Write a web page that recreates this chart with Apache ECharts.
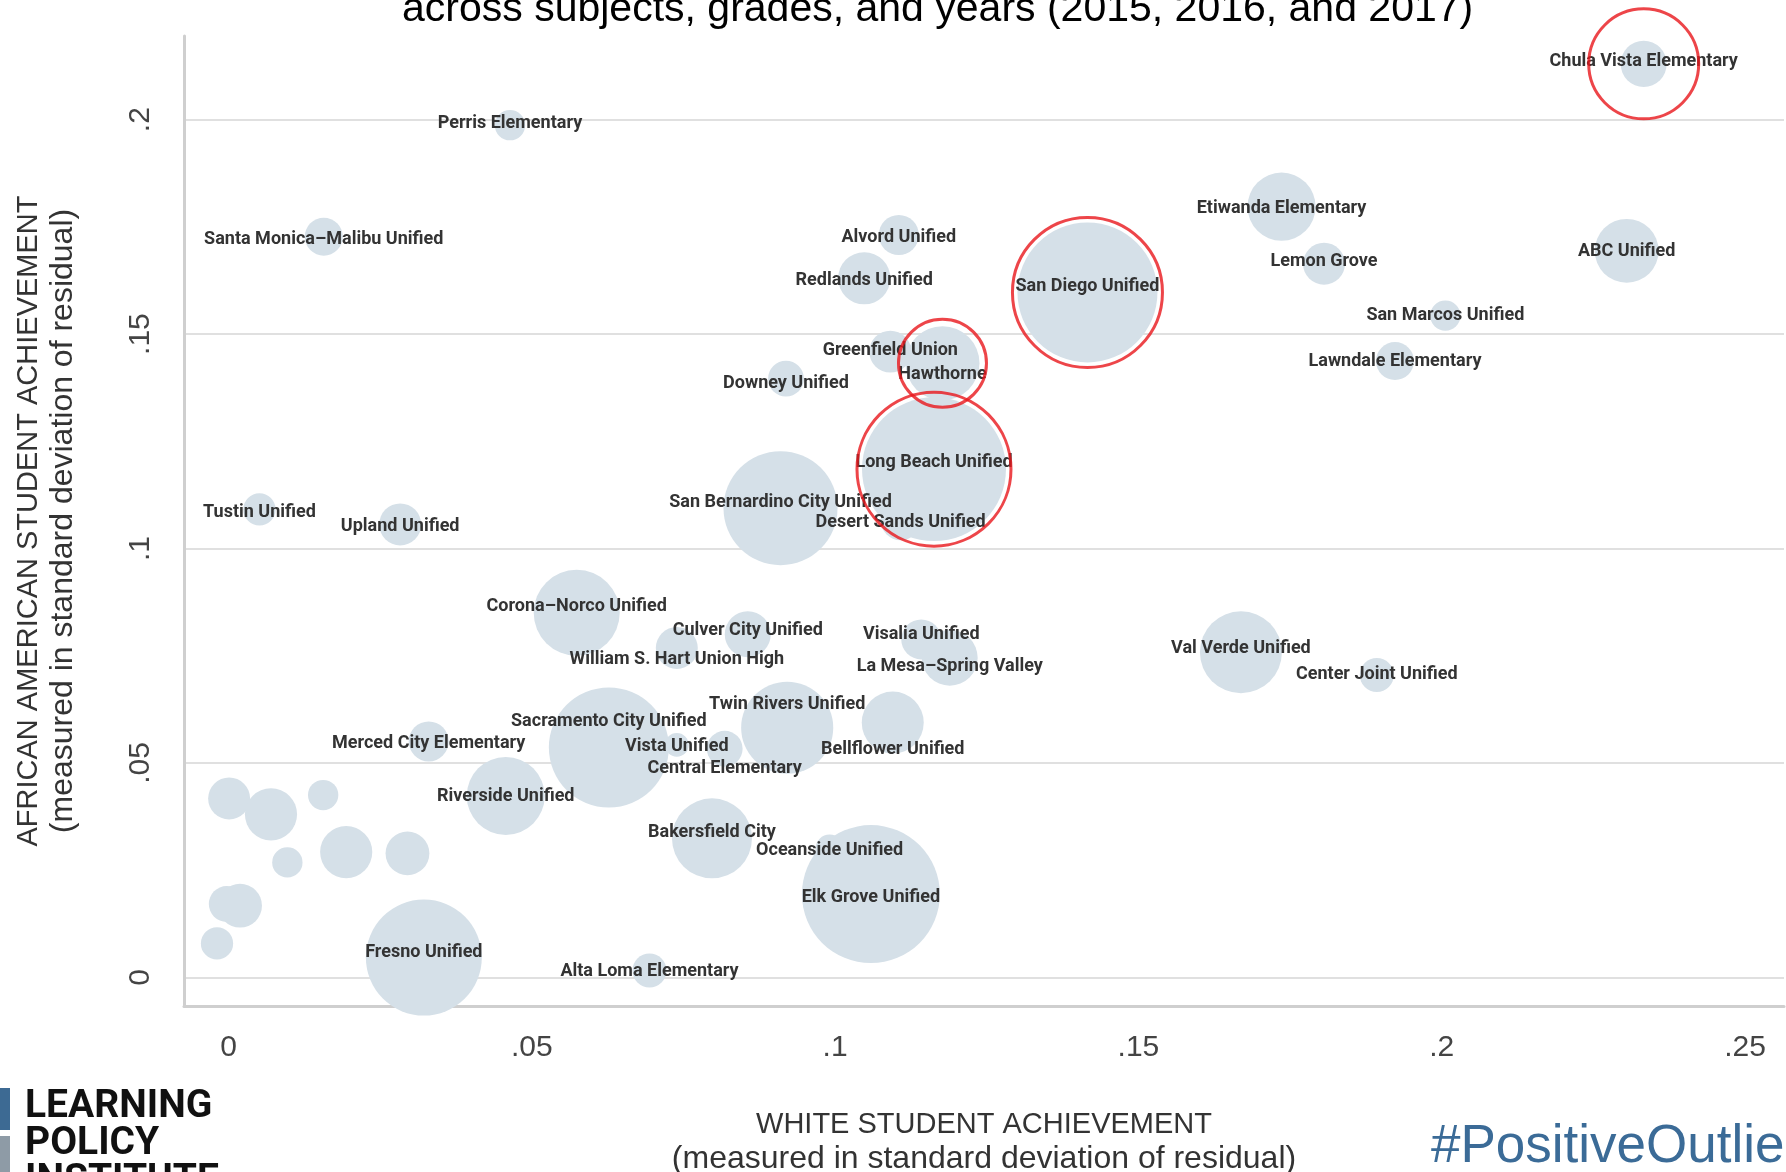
<!DOCTYPE html>
<html>
<head>
<meta charset="utf-8">
<title>Positive outliers</title>
<script src="https://cdn.jsdelivr.net/npm/echarts@6/dist/echarts.min.js"></script>
<style>
html, body {margin:0; padding:0; background:#fff;}
#chart {width:1786px; height:1172px;}
</style>
</head>
<body>
<div id="chart"></div>
<script>
// districts (blank name = unlabelled bubble)
var districts = [
    'Chula Vista Elementary', 'Perris Elementary', 'Santa Monica\u2013Malibu Unified', 'Alvord Unified',
    'Redlands Unified', 'San Diego Unified', 'Etiwanda Elementary', 'Lemon Grove', 'ABC Unified',
    'San Marcos Unified', 'Lawndale Elementary', 'Greenfield Union', 'Hawthorne', 'Downey Unified',
    'Long Beach Unified', 'San Bernardino City Unified', 'Desert Sands Unified', 'Tustin Unified',
    'Upland Unified', 'Corona\u2013Norco Unified', 'Culver City Unified', 'William S. Hart Union High',
    'Visalia Unified', 'La Mesa\u2013Spring Valley', 'Val Verde Unified', 'Center Joint Unified',
    'Twin Rivers Unified', 'Bellflower Unified', 'Sacramento City Unified', 'Merced City Elementary',
    'Vista Unified', 'Central Elementary', 'Riverside Unified', 'Bakersfield City', 'Oceanside Unified',
    'Elk Grove Unified', 'Fresno Unified', 'Alta Loma Elementary',
    '', '', '', '', '', '', '', '', ''
];
// white student achievement (x)
var whiteAch = [
    0.2333, 0.0464, 0.0157, 0.1105, 0.1048, 0.1416, 0.1736, 0.1806, 0.2305,
    0.2006, 0.1923, 0.1091, 0.1177, 0.0919, 0.1163, 0.0910, 0.1108, 0.0051,
    0.0283, 0.0574, 0.0856, 0.0739, 0.1142, 0.1189, 0.1669, 0.1893,
    0.0921, 0.1095, 0.0627, 0.0330, 0.0739, 0.0818, 0.0457, 0.0797, 0.0991,
    0.1059, 0.0322, 0.0694,
    0.0001, 0.0070, 0.0156, 0.0097, 0.0194, 0.0295, -0.0003, 0.0019, -0.0019
];
// african american student achievement (y)
var blackAch = [
    0.2130, 0.1987, 0.1727, 0.1731, 0.1630, 0.1597, 0.1797, 0.1664, 0.1694,
    0.1543, 0.1437, 0.1459, 0.1432, 0.1396, 0.1185, 0.1094, 0.1066, 0.1091,
    0.1056, 0.0850, 0.0800, 0.0768, 0.0788, 0.0745, 0.0758, 0.0705,
    0.0582, 0.0594, 0.0536, 0.0550, 0.0542, 0.0533, 0.0423, 0.0324, 0.0300,
    0.0194, 0.0046, 0.0016,
    0.0417, 0.0380, 0.0425, 0.0268, 0.0292, 0.0289, 0.0171, 0.0167, 0.0079
];
// bubble weight (enrollment, relative)
var enrollment = [
    53, 23, 36, 40, 68, 490, 116, 44, 102,
    23, 36, 44, 137, 32, 518, 325, 40, 26,
    44, 185, 53, 44, 40, 78, 168, 29,
    212, 96, 360, 40, 14, 32, 152, 160, 20,
    476, 336, 29,
    44, 68, 23, 23, 68, 48, 32, 48, 26
];
var xTicks = [0, 0.05, 0.1, 0.15, 0.2, 0.25];
var yTicks = [0, 0.05, 0.1, 0.15, 0.2];
var circled = ['Chula Vista Elementary', 'San Diego Unified', 'Hawthorne', 'Long Beach Unified'];

// styling only: vertical label nudges and red ring diameters (px)
var labelNudge = {
    'Chula Vista Elementary': -2, 'Perris Elementary': -2, 'Santa Monica\u2013Malibu Unified': 3,
    'Alvord Unified': 3, 'Redlands Unified': 2, 'San Diego Unified': -6, 'Etiwanda Elementary': 2,
    'Lemon Grove': -2, 'ABC Unified': 1, 'Greenfield Union': -1, 'Hawthorne': 11, 'Downey Unified': 5,
    'Long Beach Unified': -7, 'San Bernardino City Unified': -6, 'Desert Sands Unified': 2,
    'Tustin Unified': 3, 'Upland Unified': 2, 'Corona\u2013Norco Unified': -6, 'Culver City Unified': -4,
    'William S. Hart Union High': 12, 'Visalia Unified': -5, 'La Mesa\u2013Spring Valley': 9,
    'Val Verde Unified': -4, 'Twin Rivers Unified': -23, 'Bellflower Unified': 27,
    'Sacramento City Unified': -26, 'Merced City Elementary': 2, 'Vista Unified': 2,
    'Central Elementary': 20, 'Riverside Unified': 1, 'Bakersfield City': -6, 'Oceanside Unified': 2,
    'Elk Grove Unified': 3, 'Fresno Unified': -5, 'Alta Loma Elementary': 1
};
var ringSize = {
    'Chula Vista Elementary': 110, 'San Diego Unified': 150, 'Hawthorne': 88, 'Long Beach Unified': 154
};

var COND = 'Roboto, "Liberation Sans", sans-serif';
var SANS = '"Liberation Sans", Arial, sans-serif';

function tickText(v) {
    if (v === 0) return '0';
    return String(v).replace(/^0/, '');
}

var bubbles = [];
for (var i = 0; i < districts.length; i++) {
    bubbles.push({
        name: districts[i],
        value: [whiteAch[i], blackAch[i], enrollment[i]],
        label: {offset: [0, labelNudge[districts[i]] || 0]}
    });
}
var rings = [];
for (var j = 0; j < circled.length; j++) {
    var k = districts.indexOf(circled[j]);
    rings.push({name: circled[j], value: [whiteAch[k], blackAch[k]], symbolSize: ringSize[circled[j]]});
}

var axisTitleRich = {
    a: {fontFamily: SANS, fontSize: 29, color: '#333', lineHeight: 34},
    b: {fontFamily: SANS, fontSize: 32, color: '#333', lineHeight: 34}
};

var chart = echarts.init(document.getElementById('chart'));
chart.setOption({
    animation: false,
    backgroundColor: '#fff',
    title: {
        text: 'across subjects, grades, and years (2015, 2016, and 2017)',
        left: 397, top: -16,
        textStyle: {fontFamily: SANS, fontSize: 41, fontWeight: 'normal', color: '#000', lineHeight: 41}
    },
    grid: {left: 184, right: 2, top: 36, bottom: 166, containLabel: false, outerBoundsMode: 'none'},
    xAxis: {
        type: 'value', min: -0.00734, max: 0.25643,
        name: '{a|WHITE STUDENT ACHIEVEMENT}\n{b|(measured in standard deviation of residual)}',
        nameLocation: 'middle', nameGap: 102,
        nameTextStyle: {rich: axisTitleRich},
        axisLine: {onZero: false, lineStyle: {color: '#cfcfcf', width: 3}},
        axisTick: {show: false, customValues: xTicks},
        splitLine: {show: false},
        axisLabel: {customValues: xTicks, margin: 27, fontFamily: SANS, fontSize: 30, color: '#444', formatter: tickText}
    },
    yAxis: {
        type: 'value', min: -0.00669, max: 0.2195,
        name: '{a|AFRICAN AMERICAN STUDENT ACHIEVEMENT}\n{b|(measured in standard deviation of residual)}',
        nameLocation: 'middle', nameGap: 104, nameRotate: 90,
        nameTextStyle: {rich: axisTitleRich},
        axisLine: {show: true, onZero: false, lineStyle: {color: '#cfcfcf', width: 3}},
        axisTick: {show: false, customValues: yTicks},
        splitLine: {show: true, lineStyle: {color: '#e0e0e0', width: 2}},
        axisLabel: {customValues: yTicks, rotate: 90, margin: 28, fontFamily: SANS, fontSize: 30, color: '#444', formatter: tickText}
    },
    series: [{
        type: 'scatter',
        clip: false,
        data: bubbles,
        symbolSize: function (val) { return 2 * Math.sqrt(val[2] * 10); },
        itemStyle: {color: '#d5e0e8', opacity: 1},
        label: {
            show: true, position: 'inside',
            formatter: function (p) { return p.name; },
            fontFamily: COND, fontWeight: 'bold', fontSize: 18, color: '#333'
        },
        emphasis: {disabled: true}
    }, {
        type: 'scatter',
        clip: false,
        z: 5,
        silent: true,
        data: rings,
        itemStyle: {color: 'rgba(0,0,0,0)', borderColor: '#e8161b', borderWidth: 3},
        emphasis: {disabled: true}
    }],
    graphic: [
        {type: 'rect', shape: {x: 0, y: 1088, width: 10, height: 42}, style: {fill: '#3d6a93'}},
        {type: 'rect', shape: {x: 0, y: 1136, width: 10, height: 40}, style: {fill: '#8e9ba6'}},
        {type: 'text', x: 25, y: 1088, style: {text: 'LEARNING', font: 'bold 39px ' + COND, fill: '#111'}},
        {type: 'text', x: 25, y: 1125, style: {text: 'POLICY', font: 'bold 39px ' + COND, fill: '#111'}},
        {type: 'text', x: 25, y: 1162, style: {text: 'INSTITUTE', font: 'bold 39px ' + COND, fill: '#111'}},
        {type: 'text', x: 1431, y: 1121, style: {text: '#PositiveOutliers', font: '53px ' + SANS, fill: '#3b6b97'}}
    ]
});
</script>
</body>
</html>
